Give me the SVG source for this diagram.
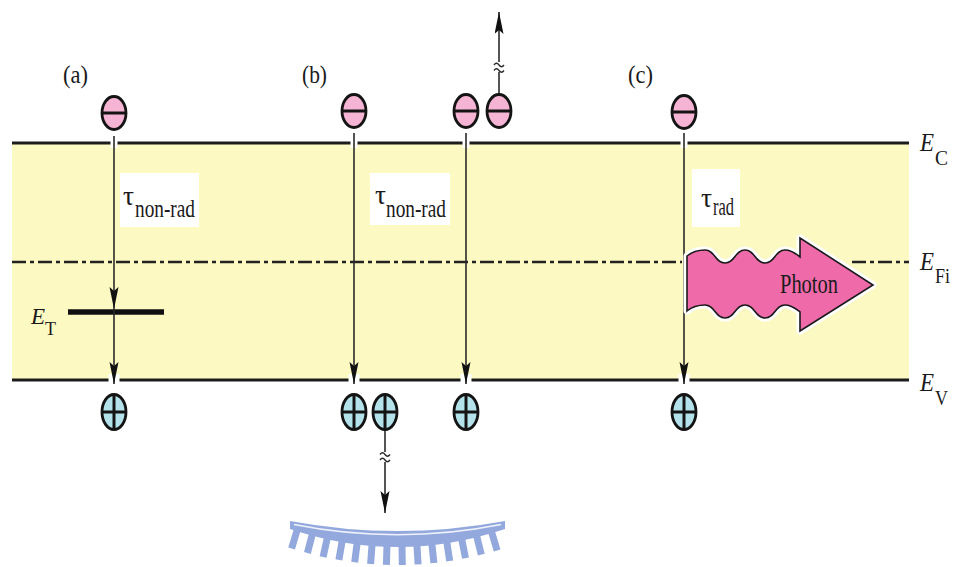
<svg xmlns="http://www.w3.org/2000/svg" width="954" height="567" viewBox="0 0 954 567">
<style>
.lvl{stroke:#1c1c1c;stroke-width:3;fill:none}
.dd{stroke:#222;stroke-width:2.5;fill:none;stroke-dasharray:14 4 4 4}
.el{fill:#f5b4d4;stroke:#141414;stroke-width:2.8}
.ho{fill:#b3e2ea;stroke:#141414;stroke-width:2.8}
.bar{stroke:#141414;stroke-width:3}
.arr{stroke:#2a2a2a;stroke-width:1.6;fill:none;marker-end:url(#ah)}
.ln{stroke:#2a2a2a;stroke-width:1.6;fill:none}
.halo{stroke:#ffffff;fill:none}
.brk{stroke:#2a2a2a;stroke-width:1.3;fill:none}
.t{font-family:"Liberation Serif","Times New Roman",serif;fill:#1a1a1a}
.it{font-style:italic}
.box{fill:#ffffff}
.wm{fill:#93a9de}
.tk{stroke:#93a9de;stroke-width:7;fill:none}
</style>
<defs>
<marker id="ah" markerUnits="userSpaceOnUse" markerWidth="24" markerHeight="10" refX="22" refY="4.5" orient="auto">
<path d="M0,0 L22,4.5 L0,9 L4,4.5 Z" fill="#111"/>
</marker>
</defs>

<g id="band">
<rect x="12" y="143" width="897" height="238" fill="#fcf9c3"/>
<line class="lvl" x1="12" y1="143" x2="909" y2="143"/>
<line class="lvl" x1="12" y1="380" x2="909" y2="380"/>
<line class="dd" x1="12" y1="262" x2="682" y2="262"/>
<line class="dd" x1="852" y1="262" x2="909" y2="262"/>
</g>

<g id="trap-level">
<line x1="68" y1="312" x2="164" y2="312" stroke="#111" stroke-width="5.5"/>
<text class="t" x="31" y="324" font-size="23"><tspan class="it">E</tspan><tspan font-size="18" dy="11">T</tspan></text>
</g>

<g id="labels">
<text class="t" x="63" y="83" font-size="26" textLength="25" lengthAdjust="spacingAndGlyphs">(a)</text>
<text class="t" x="302" y="83" font-size="26" textLength="25" lengthAdjust="spacingAndGlyphs">(b)</text>
<text class="t" x="628" y="83" font-size="26" textLength="25" lengthAdjust="spacingAndGlyphs">(c)</text>
<text class="t it" x="920" y="151" font-size="26" textLength="14" lengthAdjust="spacingAndGlyphs">E</text>
<text class="t" x="935" y="165" font-size="20" textLength="13" lengthAdjust="spacingAndGlyphs">C</text>
<text class="t it" x="920" y="270" font-size="26" textLength="14" lengthAdjust="spacingAndGlyphs">E</text>
<text class="t" x="935" y="283" font-size="20" textLength="15" lengthAdjust="spacingAndGlyphs">Fi</text>
<text class="t it" x="920" y="391" font-size="26" textLength="14" lengthAdjust="spacingAndGlyphs">E</text>
<text class="t" x="935" y="405" font-size="20" textLength="13" lengthAdjust="spacingAndGlyphs">V</text>
</g>

<g id="connectors">
<line class="halo" x1="114" y1="138" x2="114" y2="148" stroke-width="7"/>
<line class="halo" x1="354" y1="138" x2="354" y2="148" stroke-width="7"/>
<line class="halo" x1="466" y1="138" x2="466" y2="148" stroke-width="7"/>
<line class="halo" x1="684" y1="138" x2="684" y2="148" stroke-width="7"/>
<line class="halo" x1="114" y1="374" x2="114" y2="386" stroke-width="11"/>
<line class="halo" x1="354" y1="374" x2="354" y2="386" stroke-width="11"/>
<line class="halo" x1="466" y1="374" x2="466" y2="386" stroke-width="11"/>
<line class="halo" x1="684" y1="374" x2="684" y2="386" stroke-width="11"/>
<line class="arr" x1="114" y1="136" x2="114" y2="309"/>
<line class="arr" x1="114" y1="309" x2="114" y2="384"/>
<line class="arr" x1="354" y1="133" x2="354" y2="384"/>
<line class="arr" x1="466" y1="133" x2="466" y2="384"/>
<line class="arr" x1="684" y1="133" x2="684" y2="384"/>
<line class="ln" x1="499" y1="95" x2="499" y2="72"/>
<line class="arr" x1="499" y1="62" x2="499" y2="12"/>
<path class="brk" d="M494,65 q2.5,-3.5 5,0 t5,0 M494,70.5 q2.5,-3.5 5,0 t5,0"/>
<line class="ln" x1="385" y1="430" x2="385" y2="452"/>
<line class="arr" x1="385" y1="462" x2="385" y2="513"/>
<path class="brk" d="M380,454.5 q2.5,-3.5 5,0 t5,0 M380,460 q2.5,-3.5 5,0 t5,0"/>
</g>

<g id="tau-a">
<rect class="box" x="120" y="173" width="79" height="54"/>
<text class="t" x="123" y="205" font-size="27" textLength="11" lengthAdjust="spacingAndGlyphs">τ</text>
<text class="t" x="135" y="217" font-size="26" textLength="60" lengthAdjust="spacingAndGlyphs">non-rad</text>
</g>
<g id="tau-b">
<rect class="box" x="370" y="173" width="80" height="52"/>
<text class="t" x="375" y="204" font-size="27" textLength="11" lengthAdjust="spacingAndGlyphs">τ</text>
<text class="t" x="386" y="217" font-size="26" textLength="60" lengthAdjust="spacingAndGlyphs">non-rad</text>
</g>
<g id="tau-c">
<rect class="box" x="692" y="169" width="48" height="58"/>
<text class="t" x="701" y="207" font-size="27" textLength="11" lengthAdjust="spacingAndGlyphs">τ</text>
<text class="t" x="713" y="215" font-size="26" textLength="21" lengthAdjust="spacingAndGlyphs">rad</text>
</g>

<g id="photon">
<path d="M687,256 C693,251 699,250 705,250 C715,250 715,263 725,263 C735,263 735,250 745,250 C755,250 755,263 765,263 C775,263 775,250 785,250 C792,250 796,254 800,257 L800,238 L873,285 L800,331 L800,312 C796,309 792,305 785,305 C775,305 775,318 765,318 C755,318 755,305 745,305 C735,305 735,318 725,318 C715,318 715,305 705,305 C699,305 693,306 687,311 Z" fill="none" stroke="#ffffff" stroke-width="7" stroke-linejoin="round"/>
<path d="M687,256 C693,251 699,250 705,250 C715,250 715,263 725,263 C735,263 735,250 745,250 C755,250 755,263 765,263 C775,263 775,250 785,250 C792,250 796,254 800,257 L800,238 L873,285 L800,331 L800,312 C796,309 792,305 785,305 C775,305 775,318 765,318 C755,318 755,305 745,305 C735,305 735,318 725,318 C715,318 715,305 705,305 C699,305 693,306 687,311 Z" fill="#ee6aa9" stroke="#1a1a1a" stroke-width="1.6" stroke-linejoin="miter"/>
<text class="t" x="780" y="293" font-size="27" textLength="58" lengthAdjust="spacingAndGlyphs">Photon</text>
</g>

<g id="e-a"><ellipse class="el" cx="114" cy="113" rx="12" ry="16.5"/><line class="bar" x1="102" y1="113" x2="126" y2="113"/></g>
<g id="e-b1"><ellipse class="el" cx="354" cy="111" rx="12" ry="16.5"/><line class="bar" x1="342" y1="111" x2="366" y2="111"/></g>
<g id="e-b2"><ellipse class="el" cx="466" cy="111" rx="12" ry="16.5"/><line class="bar" x1="454" y1="111" x2="478" y2="111"/></g>
<g id="e-b3"><ellipse class="el" cx="499" cy="111" rx="12" ry="16.5"/><line class="bar" x1="487" y1="111" x2="511" y2="111"/></g>
<g id="e-c"><ellipse class="el" cx="684" cy="112" rx="12" ry="16.5"/><line class="bar" x1="672" y1="112" x2="696" y2="112"/></g>

<g id="h-a"><ellipse class="ho" cx="114" cy="412" rx="12" ry="17.5"/><line class="bar" x1="102" y1="412" x2="126" y2="412"/><line class="bar" x1="114" y1="394.5" x2="114" y2="429.5"/></g>
<g id="h-b1"><ellipse class="ho" cx="354" cy="412" rx="12" ry="17.5"/><line class="bar" x1="342" y1="412" x2="366" y2="412"/><line class="bar" x1="354" y1="394.5" x2="354" y2="429.5"/></g>
<g id="h-b2"><ellipse class="ho" cx="385" cy="412" rx="12" ry="17.5"/><line class="bar" x1="373" y1="412" x2="397" y2="412"/><line class="bar" x1="385" y1="394.5" x2="385" y2="429.5"/></g>
<g id="h-b3"><ellipse class="ho" cx="466" cy="412" rx="12" ry="17.5"/><line class="bar" x1="454" y1="412" x2="478" y2="412"/><line class="bar" x1="466" y1="394.5" x2="466" y2="429.5"/></g>
<g id="h-c"><ellipse class="ho" cx="684" cy="412" rx="12" ry="17.5"/><line class="bar" x1="672" y1="412" x2="696" y2="412"/><line class="bar" x1="684" y1="394.5" x2="684" y2="429.5"/></g>

<g id="watermark">
<path class="wm" d="M290,521 Q397.5,541 505,521 L505,529 Q397.5,565 290,529 Z"/>
<path d="M294,524.5 Q397.5,545 501,524.5" fill="none" stroke="#ffffff" stroke-width="1.6" opacity="0.85"/>
<path class="tk" d="M297.6,528.4 L291.6,548.5 M312.5,533.7 L307.4,553 M327.4,537.4 L323.1,556.9 M342.3,540.2 L338.9,559.9 M357.2,542.4 L354.7,562.3 M372.1,544 L370.6,563.9 M387,544.8 L386.4,564.8 M402,545 L402.3,565 M416.9,544.4 L418.1,564.4 M431.8,543.1 L433.9,563 M446.7,541.2 L449.7,561 M461.6,538.5 L465.5,558.1 M476.5,535.3 L481.3,554.7 M491.4,531.2 L497.1,550.4"/>
</g>
</svg>
